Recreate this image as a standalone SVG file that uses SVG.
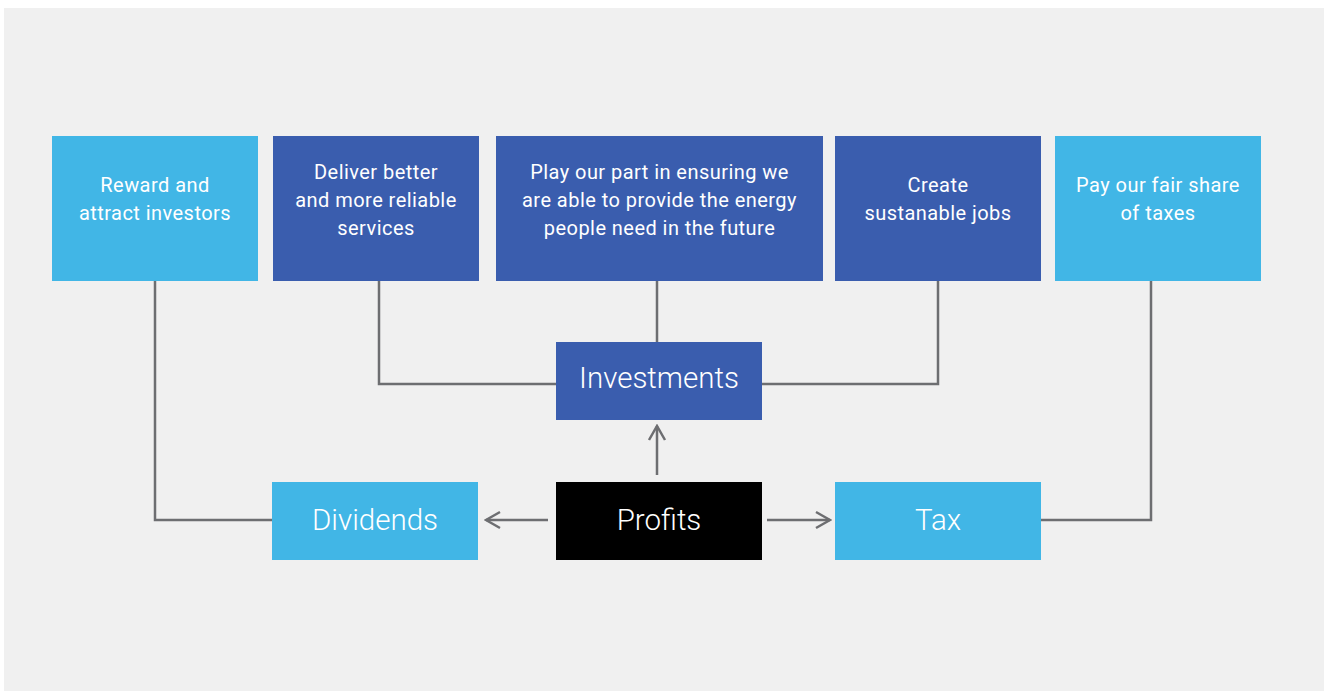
<svg xmlns="http://www.w3.org/2000/svg" width="1328" height="691" viewBox="0 0 1328 691">
<defs>
<style>
.light{fill:#41b6e6}
.dark{fill:#3a5dae}
.black{fill:#000}
.t{font-family:Roboto,"Liberation Sans",sans-serif;fill:#fff;text-anchor:middle}
.s{font-size:20px;letter-spacing:0.45px}
.b{font-size:29.5px;font-weight:300}
.c{fill:none;stroke:#6d6e71;stroke-width:2.5}
</style>
<marker id="ah" viewBox="0 0 20 20" refX="18" refY="10" markerWidth="20" markerHeight="20" markerUnits="userSpaceOnUse" orient="auto">
<path d="M4,2 L18,10 L4,18" fill="none" stroke="#6d6e71" stroke-width="2.5"/>
</marker>
</defs>
<rect x="0" y="0" width="1328" height="691" fill="#fff"/>
<rect x="4" y="8" width="1320" height="683" fill="#f0f0f0"/>
<g id="connectors">
<polyline class="c" points="155,281 155,520 272,520"/>
<polyline class="c" points="1041,520 1151,520 1151,281"/>
<polyline class="c" points="379,281 379,384 556,384"/>
<polyline class="c" points="657,281 657,342"/>
<polyline class="c" points="938,281 938,384 762,384"/>
<line class="c" x1="657" y1="475" x2="657" y2="426" marker-end="url(#ah)"/>
<line class="c" x1="548" y1="520" x2="486" y2="520" marker-end="url(#ah)"/>
<line class="c" x1="767" y1="520" x2="830" y2="520" marker-end="url(#ah)"/>
</g>
<g id="reward">
<rect class="light" x="52" y="136" width="206" height="145"/>
<text class="t s" x="155" y="192">Reward and</text>
<text class="t s" x="155" y="220">attract investors</text>
</g>
<g id="deliver">
<rect class="dark" x="273" y="136" width="206" height="145"/>
<text class="t s" x="376" y="179">Deliver better</text>
<text class="t s" x="376" y="207">and more reliable</text>
<text class="t s" x="376" y="235">services</text>
</g>
<g id="play">
<rect class="dark" x="496" y="136" width="327" height="145"/>
<text class="t s" x="659.5" y="179">Play our part in ensuring we</text>
<text class="t s" x="659.5" y="207">are able to provide the energy</text>
<text class="t s" x="659.5" y="235">people need in the future</text>
</g>
<g id="create">
<rect class="dark" x="835" y="136" width="206" height="145"/>
<text class="t s" x="938" y="192">Create</text>
<text class="t s" x="938" y="220">sustanable jobs</text>
</g>
<g id="pay">
<rect class="light" x="1055" y="136" width="206" height="145"/>
<text class="t s" x="1158" y="192">Pay our fair share</text>
<text class="t s" x="1158" y="220">of taxes</text>
</g>
<g id="investments">
<rect class="dark" x="556" y="342" width="206" height="78"/>
<text class="t b" x="659" y="388">Investments</text>
</g>
<g id="dividends">
<rect class="light" x="272" y="482" width="206" height="78"/>
<text class="t b" x="375" y="530">Dividends</text>
</g>
<g id="profits">
<rect class="black" x="556" y="482" width="206" height="78"/>
<text class="t b" x="659" y="530">Profits</text>
</g>
<g id="tax">
<rect class="light" x="835" y="482" width="206" height="78"/>
<text class="t b" x="938" y="530">Tax</text>
</g>
</svg>
